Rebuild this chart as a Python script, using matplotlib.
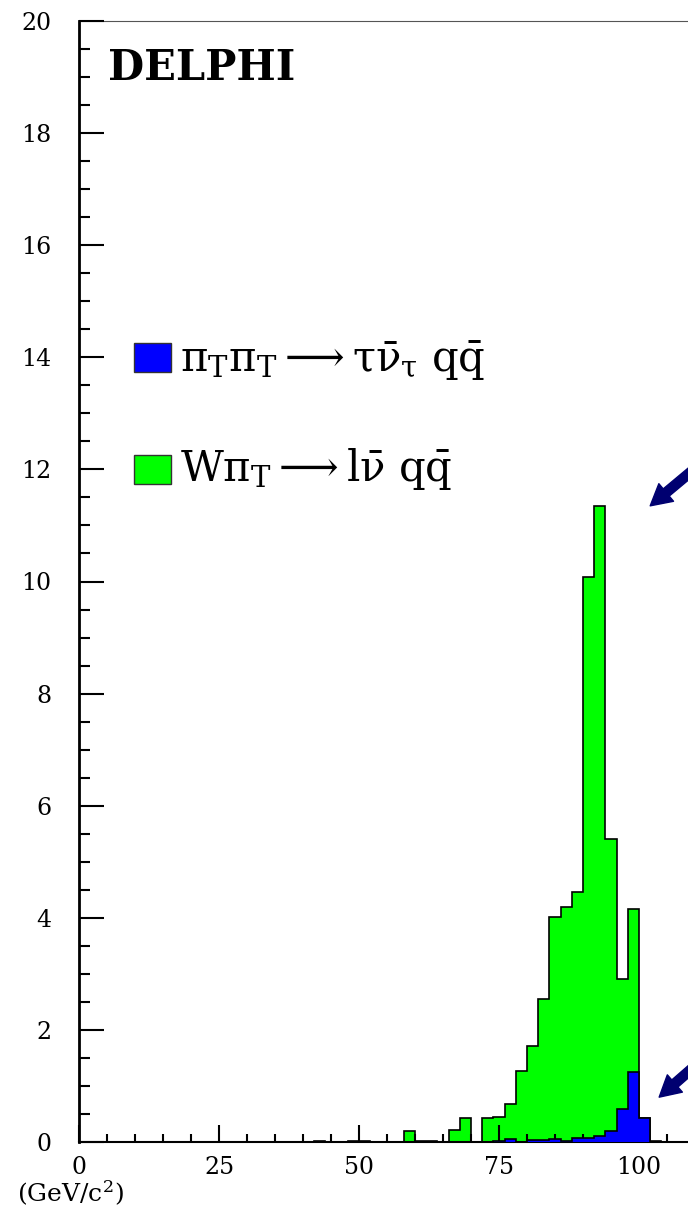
import numpy as np
import matplotlib
matplotlib.use("Agg")
import matplotlib.pyplot as plt
from matplotlib.patches import Rectangle
from matplotlib.ticker import MultipleLocator

plt.rcParams['font.family'] = ['DejaVu Serif']
plt.rcParams['mathtext.fontset'] = 'dejavuserif'

# ---- data ----
bin_edges = list(range(0, 112, 2))  # 0..110, 55 bins of 2 GeV/c^2
# total (W pi_T -> l nu q qbar, drawn green) per bin start
green_vals = {42: 0.02, 48: 0.02, 50: 0.02, 58: 0.20, 60: 0.02, 62: 0.02,
              66: 0.21, 68: 0.42, 72: 0.42, 74: 0.44, 76: 0.67, 78: 1.27,
              80: 1.71, 82: 2.56, 84: 4.02, 86: 4.19, 88: 4.46, 90: 10.08,
              92: 11.35, 94: 5.40, 96: 2.90, 98: 4.16, 100: 0.42, 102: 0.02}
blue_vals = {74: 0.01, 76: 0.05, 80: 0.03, 82: 0.04, 84: 0.06, 86: 0.02,
             88: 0.08, 90: 0.08, 92: 0.10, 94: 0.19, 96: 0.59, 98: 1.24,
             100: 0.42}
green = np.array([green_vals.get(e, 0.0) for e in bin_edges[:-1]])
blue = np.array([blue_vals.get(e, 0.0) for e in bin_edges[:-1]])

x_ticks = [0, 25, 50, 75, 100]
y_ticks = list(range(0, 22, 2))
legend_labels = [r"$\mathrm{\pi_{T}\pi_{T}} \longrightarrow \mathrm{\tau\bar{\nu}_{\tau}\ q\bar{q}}$",
                 r"$\mathrm{W\pi_{T}} \longrightarrow \mathrm{l\bar{\nu}\ q\bar{q}}$"]
arrow_tips = [(102.0, 11.35), (103.6, 0.80)]
arrow_tails = [(112.2, 12.2), (111.3, 1.47)]

W, H = 688, 1209
fig = plt.figure(figsize=(W / 100, H / 100), dpi=100)
ax = fig.add_axes([79 / W, (H - 1142) / H, 616 / W, (1142 - 21) / H])

ax.stairs(green, bin_edges, fill=True, facecolor='#00ff00', edgecolor='none', zorder=1)
ax.stairs(green, bin_edges, baseline=0, color='black', lw=1.2, zorder=2)
ax.stairs(blue, bin_edges, fill=True, facecolor='#0000ff', edgecolor='none', zorder=3)
ax.stairs(blue, bin_edges, baseline=0, color='black', lw=1.2, zorder=4)

ax.set_xlim(0, 110)
ax.set_ylim(0, 20)
ax.set_xticks(x_ticks)
ax.set_yticks(y_ticks)
ax.xaxis.set_minor_locator(MultipleLocator(5))
ax.yaxis.set_minor_locator(MultipleLocator(0.5))
ax.tick_params(axis='x', which='both', direction='in', top=False, labelsize=17, pad=10)
ax.tick_params(axis='y', which='both', direction='in', right=False, labelsize=17, pad=20)
ax.tick_params(axis='x', which='major', length=12, width=1.5)
ax.tick_params(axis='x', which='minor', length=6, width=1.5)
ax.tick_params(axis='y', which='major', length=18, width=1.5)
ax.tick_params(axis='y', which='minor', length=8, width=1.5)
ax.set_axisbelow(False)
ax.spines['left'].set_linewidth(2)
ax.spines['bottom'].set_linewidth(1.5)
ax.spines['top'].set_linewidth(0.8)
ax.spines['top'].set_color('#555555')
ax.spines['right'].set_visible(False)

# DELPHI label
fig.text(108 / W, 1 - 80 / H, "DELPHI", fontsize=30, fontweight='bold',
         ha='left', va='baseline')

# legend
colors = ['#0000ff', '#00ff00']
sq_tops = [343, 455]
baselines = [372, 481]
for c, top, bl, lab in zip(colors, sq_tops, baselines, legend_labels):
    fig.patches.append(Rectangle((134 / W, 1 - (top + 29) / H), 37 / W, 29 / H,
                                 transform=fig.transFigure, facecolor=c,
                                 edgecolor='#333333', lw=1))
    fig.text(180 / W, 1 - bl / H, lab, fontsize=30, ha='left', va='baseline')

# arrows
for tip, tail in zip(arrow_tips, arrow_tails):
    ax.annotate("", xy=tip, xytext=tail, annotation_clip=False,
                arrowprops=dict(arrowstyle='simple,head_length=1.0,head_width=1.1,tail_width=0.45',
                                mutation_scale=15, color='#000070', shrinkA=0, shrinkB=0))

# x unit label
fig.text(17 / W, 1 - 1193 / H, r"(GeV/c$^2$)", fontsize=18, ha='left', va='center')

fig.savefig("out.png", dpi=100)
